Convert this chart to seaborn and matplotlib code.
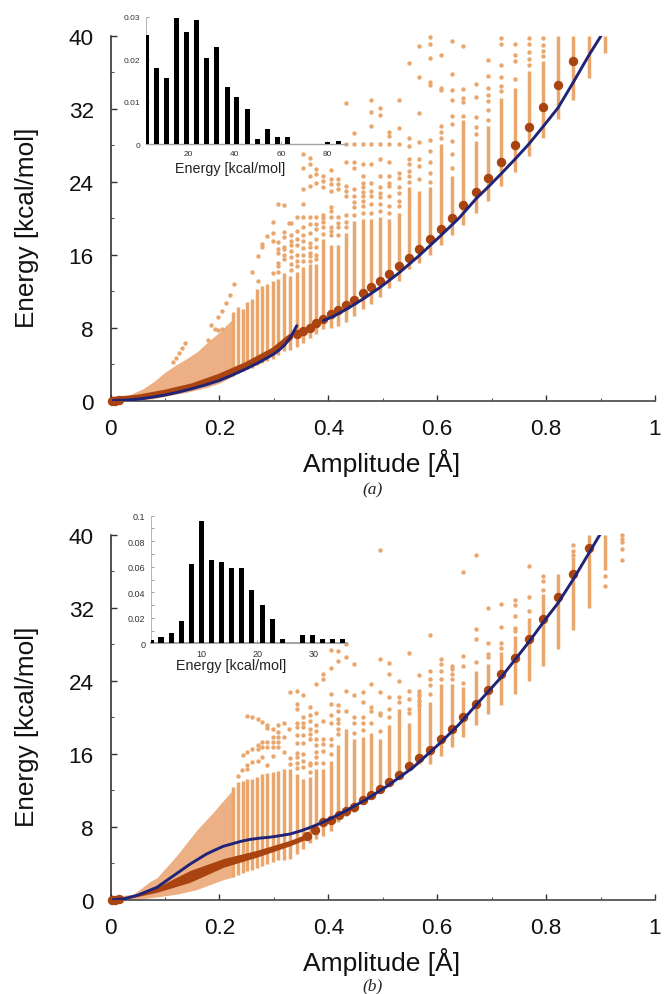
import pandas as pd
import matplotlib
matplotlib.use("Agg")
import matplotlib.pyplot as plt
from matplotlib.ticker import MultipleLocator, FixedLocator
import seaborn as sns

W, H = 667, 995
LIGHT = "#E9A76E"
WEDGE = "#ECB084"
BROWN = "#A9430F"
NAVY = "#1F2478"
GREY = "#8A8A8A"

# amplitudes of the sampled columns, shared by both panels
col_amp = [.2254, .2346, .2425, .251, .259, .2695, .2786, .2878, .2976, .308, .318, .33, .342, .354,
           .366, .378, .391, .404, .418, .433, .447, .463, .479, .495, .512, .530, .548, .567, .586,
           .606, .627, .648, .671, .694, .718, .742, .768, .794, .822, .850, .879, .909]

# panel a
a_low = [2.7, 3.0, 3.2, 3.4, 3.6, 3.9, 4.1, 4.3, 4.6, 5.0, 5.4, 5.5, 5.9, 6.3, 6.9, 7.3, 7.8, 8.0, 8.2, 8.6, 9.3,
         10.0, 10.6, 11.3, 12.3, 13.1, 14.4, 15.1, 15.9, 17.0, 18.1, 19.2, 20.6, 21.9, 23.5, 25.1, 26.8, 28.8,
         30.9, 33.0, 35.4, 38.1]
a_high = [9.7, 10.2, 10.0, 10.8, 11.1, 12.2, 12.6, 12.8, 13.1, 13.3, 14.0, 13.7, 14.1, 14.6, 15.0, 15.0, 17.7, 17.1,
          17.1, 18.4, 19.7, 19.9, 19.9, 20.1, 19.9, 20.6, 23.4, 23.0, 23.4, 28.1, 24.6, 30.8, 28.5, 30.1, 33.2,
          34.3, 36.1, 37.2, 40, 40, 40, 40]
a_wedge_amp = [0, .03, .06, .08, .10, .12, .14, .16, .18, .20, .2254]
a_wedge_low = [0, 0, .1, .2, .45, .7, .9, 1.2, 1.5, 1.9, 2.7]
a_wedge_high = [.3, .5, 1.3, 2.1, 3.1, 3.9, 4.6, 5.4, 6.5, 7.5, 9.0]
a_band_amp = [.002, .05, .10, .15, .20, .25, .30, .33]
a_band_e = [.05, .3, .85, 1.55, 2.6, 3.9, 5.5, 6.95]
a_dot_amp = [.002, .008, .015, .342, .354, .366, .378, .391, .404, .418, .433, .447, .463, .479, .495, .512, .530,
             .548, .567, .586, .606, .627, .648, .671, .694, .718, .742, .768, .794, .822, .850]
a_dot_e = [0, 0, .05, 7.3, 7.65, 7.94, 8.45, 8.93, 9.44, 9.9, 10.5, 11.05, 11.74, 12.4, 13.1, 13.9, 14.8,
           15.65, 16.6, 17.7, 18.83, 20.04, 21.4, 22.85, 24.38, 26.1, 28.0, 30.0, 32.2, 34.6, 37.2]
a_line1_amp = [.005, .03, .05, .075, .10, .125, .15, .175, .20, .225, .25, .275, .30, .31, .32, .33, .342]
a_line1_e = [0, .05, .15, .35, .6, .92, 1.3, 1.72, 2.2, 2.82, 3.5, 4.25, 5.1, 5.55, 6.1, 6.9, 8.2]
a_line2_amp = [.391, .41, .433, .463, .495, .53, .567, .606, .64, .671, .695, .718, .745, .768, .794, .822, .850,
               .878, .901]
a_line2_e = [8.75, 9.25, 10.0, 11.1, 12.4, 14.0, 15.9, 18.05, 20.0, 22.1, 23.5, 24.9, 26.6, 28.1, 30.0, 32.1, 34.9,
             37.8, 40.0]
a_out = [
    (.115, [4.2]), (.12, [4.7]), (.125, [5.2]), (.131, [5.75]), (.136, [6.3]),
    (.178, [6.6]), (.185, [8.3]), (.192, [7.8]), (.198, [7.7, 9.2]), (.204, [7.8, 9.85]), (.212, [10.65]),
    (.219, [11.6]), (.227, [12.8]), (.26, [14.05]), (.27, [13.1, 15.8]), (.279, [16.8, 17.15]), (.288, [18.06]),
    (.298, [14.0, 17.5, 18.4, 19.6]), (.308, [14.1, 14.8, 15.1, 16.2, 16.6, 17.4, 21.5]),
    (.318, [15.5, 16.0, 16.6, 16.8, 18.5, 17.9, 21.4]),
    (.328, [19.5]), (.331, [14.3, 15.0, 15.7, 16.4, 17.1, 17.5, 18.1, 19.5]),
    (.342, [14.8, 15.3, 16.0, 17.1, 17.7, 18.6, 20.1]),
    (.354, [15.3, 16.0, 16.7, 17.5, 18.1, 19.0, 20.1, 21.5, 23.2, 25.5, 27.0]),
    (.366, [15.3, 15.8, 16.2, 16.8, 17.3, 18.4, 19.3, 20.1, 23.5, 24.6, 25.9, 26.6]),
    (.378, [15.5, 16.0, 16.8, 17.7, 18.8, 19.3, 20.1, 23.9, 24.8, 25.4]),
    (.391, [18.3, 19.0, 19.6, 20.0, 20.3, 23.4, 24.1, 24.6]),
    (.404, [18.1, 18.6, 19.0, 20.1, 20.8, 21.2, 23.0, 23.7, 24.3, 25.3]),
    (.418, [18.1, 19.0, 19.5, 20.1, 23.2, 23.7, 24.3]),
    (.433, [19.0, 19.6, 20.3, 22.4, 23.0, 23.5, 26.1, 28.1, 32.6]),
    (.447, [20.3, 21.2, 21.8, 22.4, 23.2, 25.5, 26.1, 28.1, 29.35]),
    (.463, [20.6, 21.3, 21.9, 22.4, 22.9, 23.4, 23.9, 24.6, 25.9, 28.1]),
    (.479, [20.6, 21.5, 22.4, 23.0, 23.9, 25.9, 28.1, 30.1, 31.65, 32.9]),
    (.495, [20.8, 21.5, 22.3, 22.8, 23.4, 24.6, 26.5, 28.1, 31.3, 32.1]),
    (.512, [20.6, 21.3, 22.4, 23.5, 23.9, 24.6, 26.1, 28.1, 29.0, 29.4]),
    (.530, [21.3, 21.9, 22.8, 23.4, 24.4, 25.0, 28.1, 29.9, 33.0]),
    (.548, [24.0, 24.6, 25.2, 25.9, 26.5, 27.9, 28.8, 37.0]),
    (.567, [24.3, 25.7, 26.5, 28.3, 31.5, 35.5, 38.9]),
    (.586, [24.0, 25.0, 26.1, 27.4, 28.6, 34.6, 34.9, 37.6, 39.1, 39.9]),
    (.606, [28.8, 29.4, 30.1, 34.1, 34.3, 37.9]),
    (.627, [25.5, 27.0, 28.5, 30.3, 31.2, 33.0, 34.1, 35.8, 39.4]),
    (.648, [31.2, 32.7, 33.2, 34.2, 38.9]),
    (.671, [29.2, 30.0, 31.1, 33.3, 34.7]),
    (.694, [30.8, 31.8, 32.8, 33.5, 34.3, 35.6, 37.3]),
    (.718, [33.9, 34.5, 35.5, 36.8, 39.1, 39.7]),
    (.742, [35.3, 37.2, 37.9, 39.1]),
    (.768, [36.8, 37.5, 38.2, 39.1, 39.8]),
    (.794, [37.8, 38.3, 39.0, 39.8]),
]
a_hist_x = [1.9, 6.25, 10.6, 14.9, 19.3, 23.7, 28.0, 32.3, 36.7, 41.0, 45.4, 49.7, 54.1, 58.4, 62.7, 80.2, 84.7]
a_hist_y = [.0258, .018, .0157, .0298, .0263, .0293, .0204, .0228, .0134, .0112, .0082, .0012, .0035, .0018, .0018,
            .0005, .0007]

# panel b
b_low = [2.5, 2.7, 2.9, 3.1, 3.3, 3.5, 3.7, 3.9, 4.1, 4.3, 4.4, 4.5, 5.0, 5.5, 6.2, 6.6, 7.0, 7.55, 8.55, 9.2, 9.6,
         10.5, 11.2, 11.8, 12.9, 13.6, 14.6, 14.9, 14.9, 15.7, 16.7, 17.8, 19.1, 20.35, 21.3, 22.5, 24.0, 25.6,
         27.5, 29.5, 31.9, 36.1]
b_high = [12.3, 12.9, 13.05, 13.2, 13.2, 13.4, 13.8, 13.9, 14.0, 14.1, 14.3, 14.3, 13.8, 13.2, 13.4, 14.3, 14.3,
          15.2, 16.9, 18.7, 17.6, 17.8, 18.3, 17.6, 19.1, 20.9, 19.4, 22.9, 21.6, 23.6, 23.6, 23.3, 25.1, 25.8,
          27.1, 28.9, 30.8, 33.5, 35.7, 37.5, 40, 40]
b_wedge_amp = [0, .042, .0724, .085, .121, .158, .189, .207, .2254]
b_wedge_low = [0, 0, .2, .3, .6, 1.1, 1.8, 2.2, 2.5]
b_wedge_high = [.3, .6, 2.0, 2.4, 4.8, 7.6, 9.6, 10.85, 12.1]
b_band_amp = [.002, .023, .0846, .1458, .207, .268, .3294, .36]
b_band_low = [0, 0, .8, 1.9, 3.55, 4.65, 5.9, 6.65]
b_band_high = [.1, .1, 1.35, 3.2, 4.5, 5.4, 6.5, 7.2]
b_dot_amp = [.002, .008, .015, .36, .375, .391, .404, .419, .433, .447, .463, .479, .495, .512, .530, .548, .567,
             .586, .606, .627, .648, .671, .694, .718, .742, .768, .794, .822, .850, .879]
b_dot_e = [0, 0, .05, 7.0, 7.6, 8.5, 8.74, 9.28, 9.72, 10.2, 10.9, 11.5, 12.1, 12.9, 13.7, 14.6, 15.5,
           16.4, 17.6, 18.7, 20.0, 21.4, 23.0, 24.7, 26.5, 28.5, 30.7, 33.1, 35.7, 38.5]
b_line_amp = [.005, .023, .05, .085, .115, .146, .176, .192, .207, .225, .24, .256, .275, .293, .31, .33, .35, .366,
              .385, .403, .433, .47, .507, .556, .606, .64, .671, .718, .768, .80, .822, .850, .878, .899]
b_line_e = [0, .08, .5, 1.35, 2.6, 3.9, 5.0, 5.45, 5.85, 6.15, 6.4, 6.6, 6.75, 6.85, 7.0, 7.2, 7.55, 7.9,
            8.35, 8.85, 9.76, 11.0, 12.4, 14.5, 17.2, 19.2, 21.3, 24.4, 28.2, 30.8, 32.5, 35.1, 37.9, 40.0]
b_out = [
    (.234, [13.6]), (.242, [14.2]), (.244, [15.8]), (.251, [14.3, 14.7, 16.2, 20.1]), (.259, [15.06, 16.5, 20.0]),
    (.27, [15.2, 16.5, 16.9, 19.8]), (.279, [15.6, 16.7, 17.25, 19.5]),
    (.288, [14.7, 16.7, 17.25, 18.8, 19.15]), (.298, [15.7, 16.7, 17.25, 17.8, 18.7]),
    (.308, [16.7, 17.25, 17.8, 18.35, 19.1]), (.318, [16.15, 17.8, 19.3]), (.328, [18.7]),
    (.33, [14.9, 15.5, 22.8]), (.342, [14.4, 15.0, 15.6, 16.1, 17.2, 18.0, 18.9, 19.4, 20.9, 21.4, 22.9]),
    (.354, [14.5, 15.2, 16.0, 17.2, 18.0, 18.9, 19.4, 20.0, 22.4]),
    (.366, [14.0, 14.7, 15.0, 17.6, 18.2, 18.7, 19.6, 20.2, 21.1]),
    (.378, [15.0, 15.6, 16.2, 16.9, 17.6, 18.5, 19.1, 20.5, 23.6]), (.391, [15.0, 16.3, 17.0, 17.6, 19.6, 24.2, 24.7]),
    (.404, [16.0, 16.9, 17.6, 19.3, 20.2, 21.4, 22.5, 25.4, 27.3]),
    (.418, [18.2, 18.7, 19.3, 19.8, 20.7, 21.3, 26.1, 27.2]),
    (.433, [20.7, 22.9, 26.6, 28.0]), (.447, [18.3, 19.4, 20.0, 22.4, 25.8]), (.463, [18.6, 19.3, 20.0, 21.7, 22.7]),
    (.479, [19.4, 20.7, 21.1, 23.6]), (.495, [18.5, 20.2, 20.5, 22.7, 26.4, 38.3]),
    (.512, [20.0, 20.9, 22.2, 24.7, 25.9]), (.530, [21.6, 22.2, 24.0]), (.548, [20.5, 20.9, 22.0, 22.9, 27.0]),
    (.567, [21.3, 21.8, 22.4, 22.9, 24.6]), (.586, [22.5, 23.5, 24.2, 25.1, 29.0]),
    (.606, [24.2, 25.1, 25.8, 26.4]), (.627, [24.2, 24.7, 25.3, 25.6]),
    (.648, [23.7, 25.6, 26.7, 35.9]), (.671, [26.0, 28.5, 29.7, 37.7]), (.694, [26.6, 26.9, 28.1, 31.9]),
    (.718, [27.6, 28.1, 29.9, 32.4]), (.742, [29.4, 29.8, 31.1, 32.3, 32.8]), (.768, [31.6, 33.2, 36.6]),
    (.794, [33.9, 34.9, 35.4]), (.850, [37.7, 38.2, 38.9]), (.909, [34.4, 35.5]),
    (.9397, [37.2, 38.4, 39.2, 39.5, 39.9]),
]
b_hist_x = [.98, 2.79, 4.6, 6.4, 8.2, 10.0, 11.8, 13.6, 15.4, 17.2, 19.0, 20.9, 22.7, 24.5, 28.1, 29.9, 31.7, 33.5,
            35.3]
b_hist_y = [.0029, .0047, .0078, .0175, .0621, .0958, .0653, .064, .059, .059, .0415, .0303, .0191, .0031, .0065,
            .0065, .0031, .0031, .0031]


def px_axes(fig, left, top, right, bottom):
    """Axes placed by pixel edges, y counted from the top of the image."""
    return fig.add_axes([left / W, 1 - bottom / H, (right - left) / W, (bottom - top) / H])


def out_frame(out):
    rows = [(amp, e) for amp, energies in out for e in energies]
    return pd.DataFrame(rows, columns=["amp", "e"])


def draw_main(fig, top, bottom, low, high, out, wedge, dots, ylabel_y, xlabel_py, tag, tag_py):
    ax = px_axes(fig, 110.6, top, 655, bottom)
    ax.fill_between(wedge[0], wedge[1], wedge[2], color=WEDGE, lw=0, zorder=1)
    ax.vlines(col_amp, low, high, color=LIGHT, lw=2.5, zorder=1)
    df = out_frame(out)
    sns.scatterplot(data=df, x="amp", y="e", ax=ax, color=LIGHT, s=10, linewidth=0, zorder=1, clip_on=False)
    sns.scatterplot(x=dots[0], y=dots[1], ax=ax, color=BROWN, s=46, linewidth=0, zorder=3, clip_on=False)

    ax.set_xlim(0, 1)
    ax.set_ylim(0, 40)
    ax.xaxis.set_major_locator(FixedLocator([0, .2, .4, .6, .8, 1]))
    ax.xaxis.set_minor_locator(MultipleLocator(.1))
    ax.yaxis.set_major_locator(MultipleLocator(8))
    ax.yaxis.set_minor_locator(MultipleLocator(4))
    ax.set_xticklabels(["0", "0.2", "0.4", "0.6", "0.8", "1"])
    ax.tick_params(which="major", direction="in", length=4.5, width=1, color="#333333", labelsize=16.2,
                   labelcolor="#111111", pad=12.5)
    ax.tick_params(which="minor", direction="in", length=2.2, width=.8, color="#555555")
    ax.tick_params(axis="y", pad=12)
    ax.set_xlabel("")
    ax.set_ylabel("")
    sns.despine(ax=ax)
    ax.spines["left"].set_color("#222222")
    ax.spines["bottom"].set_color("#555555")
    ax.spines["left"].set_linewidth(1.1)
    ax.spines["bottom"].set_linewidth(1.3)

    fig.text(27 / W, 1 - ylabel_y / H, "Energy [kcal/mol]", rotation=90, fontsize=18.8, color="#111111",
             ha="center", va="center")
    fig.text(382 / W, 1 - xlabel_py / H, "Amplitude [Å]", fontsize=19, color="#111111", ha="center", va="center")
    fig.text(373 / W, 1 - tag_py / H, tag, fontsize=12.5, family="Liberation Serif", style="italic",
             ha="center", va="center", color="#222222")
    return ax


def draw_inset(fig, box, xlim, ylim, hist_x, hist_y, width, xticks, yticks, ylabels, minor, label_xy, labelsize, base_lw):
    ax = px_axes(fig, *box)
    ax.patch.set_alpha(0)
    sns.barplot(x=hist_x, y=hist_y, ax=ax, native_scale=True, color="black", width=width, saturation=1, zorder=3,
                edgecolor="black", linewidth=0)
    ax.set_xlim(*xlim)
    ax.set_ylim(*ylim)
    ax.set_xticks(xticks)
    ax.set_xticklabels([str(t) for t in xticks])
    ax.set_yticks(yticks)
    ax.set_yticklabels(ylabels)
    if minor:
        ax.yaxis.set_minor_locator(MultipleLocator(minor))
    ax.tick_params(which="both", direction="in", length=2, width=.6, color=GREY, labelsize=labelsize,
                   labelcolor="#333333", pad=4)
    ax.set_xlabel("")
    ax.set_ylabel("")
    sns.despine(ax=ax)
    ax.spines["left"].set_color("#B5B5B5")
    ax.spines["bottom"].set_color("#A5A5A5")
    ax.spines["left"].set_linewidth(.7)
    ax.spines["bottom"].set_linewidth(base_lw)
    fig.text(label_xy[0] / W, 1 - label_xy[1] / H, "Energy [kcal/mol]", fontsize=10.3, color="#222222",
             ha="center", va="center")
    return ax


sns.set_theme(style="ticks")
plt.rcParams["font.family"] = ["Liberation Sans", "DejaVu Sans"]

fig = plt.figure(figsize=(W / 100, H / 100), dpi=100)

ax_a = draw_main(fig, 36.7, 401.5, a_low, a_high, a_out, (a_wedge_amp, a_wedge_low, a_wedge_high),
                 (a_dot_amp, a_dot_e), 228, 463, "(a)", 490)
ax_a.plot(a_band_amp, a_band_e, color=BROWN, lw=4.4, solid_capstyle="round", zorder=2)
sns.lineplot(x=a_line1_amp, y=a_line1_e, ax=ax_a, color=NAVY, lw=2.1, sort=False, estimator=None, zorder=4)
sns.lineplot(x=a_line2_amp, y=a_line2_e, ax=ax_a, color=NAVY, lw=2.1, sort=False, estimator=None, zorder=4)
ax_a.set_xlabel("")
ax_a.set_ylabel("")

ax_b = draw_main(fig, 535.5, 900.7, b_low, b_high, b_out, (b_wedge_amp, b_wedge_low, b_wedge_high),
                 (b_dot_amp, b_dot_e), 727, 962, "(b)", 986)
ax_b.fill_between(b_band_amp, b_band_low, b_band_high, color=BROWN, lw=0, zorder=2)
sns.lineplot(x=b_line_amp, y=b_line_e, ax=ax_b, color=NAVY, lw=2.1, sort=False, estimator=None, zorder=4)
ax_b.set_xlabel("")
ax_b.set_ylabel("")

draw_inset(fig, (145.7, 17.7, 346, 145.3), (1.64, 88), (0, .03), a_hist_x, a_hist_y, .5,
           [20, 40, 60, 80], [0, .01, .02, .03], ["0", "0.01", "0.02", "0.03"], None, (230, 169), 6, 1.0)
draw_inset(fig, (151, 516.7, 346.7, 644.3), (.98, 36), (0, .1), b_hist_x, b_hist_y, .52,
           [10, 20, 30], [0, .02, .04, .06, .08, .1], ["0", "0.02", "0.04", "0.06", "0.08", "0.1"], .01,
           (231, 665.7), 6.5, 1.5)

fig.savefig("out.png", dpi=100)
plt.close(fig)
